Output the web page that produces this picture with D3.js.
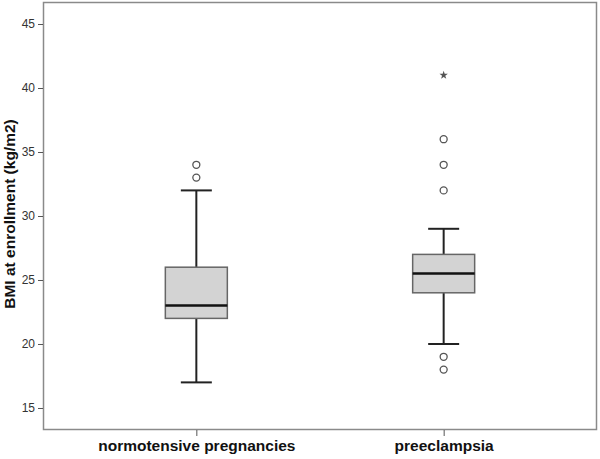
<!DOCTYPE html>
<html>
<head>
<meta charset="utf-8">
<script src="https://cdn.jsdelivr.net/npm/d3@7"></script>
<style>
  body { margin: 0; background: #fff; }
  text { font-family: Arial, "Liberation Sans", sans-serif; }
</style>
</head>
<body>
<svg width="600" height="459"></svg>
<script>
const categories = ['normotensive pregnancies', 'preeclampsia'];
const whiskerLow = [17, 20];
const q1 = [22, 24];
const median = [23, 25.5];
const q3 = [26, 27];
const whiskerHigh = [32, 29];
const outliers = [[33, 34], [18, 19, 32, 34, 36]];
const extremes = [[], [41]];
const yTicks = [15, 20, 25, 30, 35, 40, 45];

const svg = d3.select('svg');
const margin = { left: 43, top: 2, right: 3, bottom: 29 };
const width = +svg.attr('width');
const height = +svg.attr('height');

const data = categories.map((c, i) => ({
  cat: c, lo: whiskerLow[i], q1: q1[i], med: median[i], q3: q3[i], hi: whiskerHigh[i],
  out: outliers[i], ext: extremes[i]
}));

const xScale = d3.scalePoint()
  .domain(categories)
  .range([margin.left, width - margin.right])
  .padding(0.62);

const yScale = d3.scaleLinear()
  .domain([13.28, 46.72])
  .range([height - margin.bottom, margin.top]);

const boxW = 62;
const capW = 31;

// frame
svg.append('rect')
  .attr('x', margin.left + 0.5)
  .attr('y', margin.top + 0.5)
  .attr('width', width - margin.left - margin.right - 1)
  .attr('height', height - margin.top - margin.bottom - 1)
  .attr('fill', 'none')
  .attr('stroke', '#8a8a8a')
  .attr('stroke-width', 1.5);

// y axis
const yAxis = d3.axisLeft(yScale).tickValues(yTicks).tickSize(5).tickPadding(3);
const yAxisG = svg.append('g')
  .attr('transform', `translate(${margin.left}, 0)`)
  .call(yAxis);
yAxisG.select('.domain').remove();
yAxisG.selectAll('line').attr('stroke', '#555');
yAxisG.selectAll('text').attr('font-size', 12).attr('fill', '#333');

// x axis
const xAxis = d3.axisBottom(xScale).tickSize(6).tickPadding(4);
const xAxisG = svg.append('g')
  .attr('transform', `translate(0, ${height - margin.bottom})`)
  .call(xAxis);
xAxisG.select('.domain').remove();
xAxisG.selectAll('line').attr('stroke', '#555');
xAxisG.selectAll('text')
  .attr('font-size', 15.5)
  .attr('font-weight', 'bold')
  .attr('fill', '#111');

// y label
svg.append('text')
  .attr('transform', `translate(15, ${(margin.top + height - margin.bottom) / 2 - 2}) rotate(-90)`)
  .attr('text-anchor', 'middle')
  .attr('font-size', 15.5)
  .attr('font-weight', 'bold')
  .attr('fill', '#111')
  .text('BMI at enrollment (kg/m2)');

const g = svg.selectAll('.box').data(data).enter().append('g').attr('class', 'box');

// whisker stems
g.append('line')
  .attr('x1', d => xScale(d.cat)).attr('x2', d => xScale(d.cat))
  .attr('y1', d => yScale(d.lo)).attr('y2', d => yScale(d.q1))
  .attr('stroke', '#222').attr('stroke-width', 2);
g.append('line')
  .attr('x1', d => xScale(d.cat)).attr('x2', d => xScale(d.cat))
  .attr('y1', d => yScale(d.q3)).attr('y2', d => yScale(d.hi))
  .attr('stroke', '#222').attr('stroke-width', 2);
// caps
g.append('line')
  .attr('x1', d => xScale(d.cat) - capW / 2).attr('x2', d => xScale(d.cat) + capW / 2)
  .attr('y1', d => yScale(d.lo)).attr('y2', d => yScale(d.lo))
  .attr('stroke', '#222').attr('stroke-width', 2);
g.append('line')
  .attr('x1', d => xScale(d.cat) - capW / 2).attr('x2', d => xScale(d.cat) + capW / 2)
  .attr('y1', d => yScale(d.hi)).attr('y2', d => yScale(d.hi))
  .attr('stroke', '#222').attr('stroke-width', 2);

// box
g.append('rect')
  .attr('x', d => xScale(d.cat) - boxW / 2)
  .attr('y', d => yScale(d.q3))
  .attr('width', boxW)
  .attr('height', d => yScale(d.q1) - yScale(d.q3))
  .attr('fill', '#d3d3d3')
  .attr('stroke', '#666')
  .attr('stroke-width', 1.5);

// median
g.append('line')
  .attr('x1', d => xScale(d.cat) - boxW / 2).attr('x2', d => xScale(d.cat) + boxW / 2)
  .attr('y1', d => yScale(d.med)).attr('y2', d => yScale(d.med))
  .attr('stroke', '#111').attr('stroke-width', 2.5);

// outliers
g.selectAll('circle').data(d => d.out.map(v => ({ cat: d.cat, v })))
  .enter().append('circle')
  .attr('cx', d => xScale(d.cat))
  .attr('cy', d => yScale(d.v))
  .attr('r', 3.5)
  .attr('fill', '#fff')
  .attr('stroke', '#555')
  .attr('stroke-width', 1.3);

// extremes
g.selectAll('.star').data(d => d.ext.map(v => ({ cat: d.cat, v })))
  .enter().append('path')
  .attr('class', 'star')
  .attr('transform', d => `translate(${xScale(d.cat)}, ${yScale(d.v)})`)
  .attr('d', d3.symbol(d3.symbolStar, 22))
  .attr('fill', '#555');
</script>
</body>
</html>
